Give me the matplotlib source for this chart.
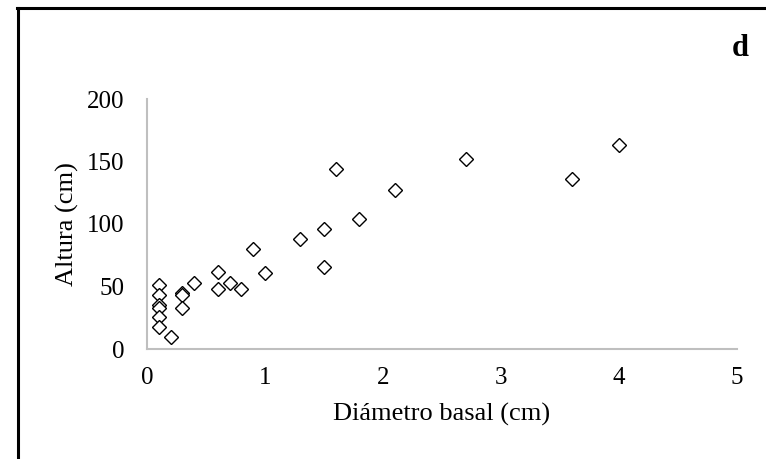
import matplotlib
matplotlib.use("Agg")
import matplotlib.pyplot as plt
from matplotlib.lines import Line2D

# Diámetro basal (cm) y altura (cm)
diametro = [0.1, 0.1, 0.1, 0.1, 0.1, 0.1, 0.2, 0.3, 0.3, 0.3, 0.4, 0.6, 0.6,
            0.7, 0.8, 0.9, 1.0, 1.3, 1.5, 1.5, 1.6, 1.8, 2.1, 2.7, 3.6, 4.0]
altura = [51, 43, 35, 33, 26, 18, 10, 45, 43, 33, 53, 62, 48,
          53, 48, 80, 61, 88, 96, 66, 144, 104, 127, 152, 136, 163]

xticks = [0, 1, 2, 3, 4, 5]
yticks = [0, 50, 100, 150, 200]

plt.rcParams['font.family'] = ['Liberation Serif', 'DejaVu Serif']

fig = plt.figure(figsize=(7.66, 4.59), dpi=100)
ax = fig.add_axes([147 / 766, 1 - 349 / 459, 590 / 766, 250 / 459])

ax.plot(diametro, altura, linestyle='none', marker='D', markersize=7.5,
        markerfacecolor='white', markeredgecolor='black', markeredgewidth=1.0)

ax.set_xlim(0, 5)
ax.set_ylim(0, 200)
ax.set_xticks(xticks)
ax.set_yticks(yticks)
ax.tick_params(length=0, labelsize=18, pad=13)
ax.tick_params(axis='y', pad=16)

for lado in ['top', 'right']:
    ax.spines[lado].set_visible(False)
for lado in ['left', 'bottom']:
    ax.spines[lado].set_color('#bfbfbf')
    ax.spines[lado].set_linewidth(1.5)

ax.set_xlabel("Diámetro basal (cm)", fontsize=19, labelpad=10)
ax.set_ylabel("Altura (cm)", fontsize=19, labelpad=6)

fig.text(740 / 766, 1 - 48 / 459, "d", fontsize=22, fontweight='bold',
         ha='center', va='center')

# marco exterior (izquierda y arriba)
fig.add_artist(Line2D([18 / 766, 18 / 766], [0, 1 - 8 / 459],
                      transform=fig.transFigure, color='black', linewidth=2.2))
fig.add_artist(Line2D([17 / 766, 1], [1 - 8 / 459, 1 - 8 / 459],
                      transform=fig.transFigure, color='black', linewidth=2.2))

fig.savefig("out.png", dpi=100)
